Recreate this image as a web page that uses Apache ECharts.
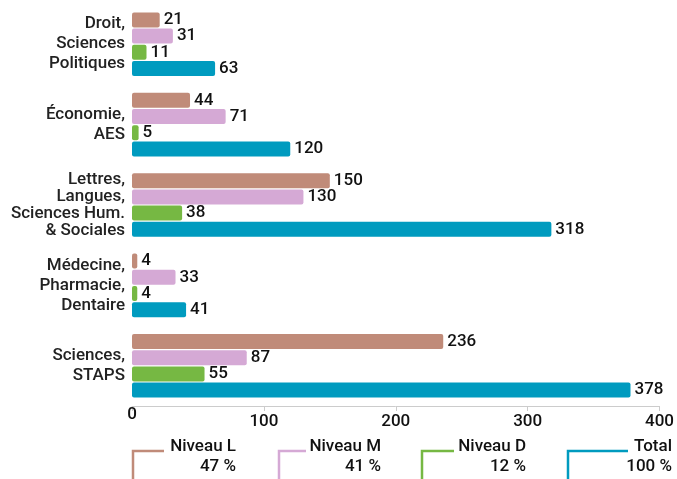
<!DOCTYPE html>
<html>
<head>
<meta charset="utf-8">
<script src="https://cdn.jsdelivr.net/npm/echarts@6/dist/echarts.min.js"></script>
<style>
  html, body { margin: 0; padding: 0; background: #fff; }
  #chart { width: 677px; height: 479px; }
</style>
</head>
<body>
<div id="chart"></div>
<script>
  // données
  var categories = [
    'Droit,\nSciences\nPolitiques',
    'Économie,\nAES',
    'Lettres,\nLangues,\nSciences Hum.\n& Sociales',
    'Médecine,\nPharmacie,\nDentaire',
    'Sciences,\nSTAPS'
  ];
  var seriesNames = ['Niveau L', 'Niveau M', 'Niveau D', 'Total'];
  var niveauL = [21, 44, 150, 4, 236];
  var niveauM = [31, 71, 130, 33, 87];
  var niveauD = [11, 5, 38, 4, 55];
  var total = [63, 120, 318, 41, 378];
  var legendPct = ['47 %', '41 %', '12 %', '100 %'];
  var xTicks = [0, 100, 200, 300, 400];

  var colors = ['#C08B79', '#D5A9D5', '#76B843', '#009BBF'];
  var font = 'Roboto, "Noto Sans", sans-serif';

  var chart = echarts.init(document.getElementById('chart'));

  var series = [niveauL, niveauM, niveauD, total].map(function (d, i) {
    return {
      name: seriesNames[i],
      type: 'bar',
      data: d,
      barWidth: 15,
      barGap: '8%',
      itemStyle: { color: colors[i], borderRadius: 2 },
      label: {
        show: true,
        position: 'right',
        distance: 4,
        color: '#111',
        fontSize: 17,
        fontWeight: 500,
        fontFamily: font
      }
    };
  });

  // légende faite à la main (coins + textes)
  var legX = [133, 279, 422, 568];
  var legRight = [236, 381, 526, 672];
  var legLineEnd = [164, 306, 454, 628];
  var graphic = [];
  for (var i = 0; i < 4; i++) {
    graphic.push({
      type: 'polyline',
      shape: { points: [[legX[i], 482], [legX[i], 451], [legLineEnd[i], 451]] },
      style: { stroke: colors[i], lineWidth: 2.5, fill: null }
    });
    graphic.push({
      type: 'text',
      x: legRight[i],
      y: 437,
      style: {
        text: seriesNames[i] + '\n' + legendPct[i],
        align: 'right',
        verticalAlign: 'top',
        lineHeight: 20,
        fill: '#111',
        font: '500 17px ' + font
      }
    });
  }

  chart.setOption({
    animation: false,
    grid: { left: 132, right: 15, top: 4, bottom: 73, containLabel: false },
    xAxis: {
      type: 'value',
      min: 0,
      max: 400,
      interval: 100,
      splitLine: { show: false },
      axisLine: { show: true, lineStyle: { color: '#ccc', width: 1 } },
      axisTick: { show: true, length: 5, lineStyle: { color: '#ccc' } },
      axisLabel: {
        margin: 0,
        formatter: function (v) {
          return xTicks.indexOf(v) === 0 ? '{z|' + v + '}' : '{n|' + v + '}';
        },
        rich: {
          z: { fontSize: 17, fontWeight: 500, fontFamily: font, color: '#111', lineHeight: 17 },
          n: { fontSize: 17, fontWeight: 500, fontFamily: font, color: '#111', lineHeight: 31 }
        }
      }
    },
    yAxis: {
      type: 'category',
      inverse: true,
      data: categories,
      axisLine: { show: false },
      axisTick: { show: false },
      axisLabel: {
        margin: 7,
        align: 'right',
        formatter: function (v) {
          var tag = v.split('\n').length > 3 ? 't' : 'c';
          return v.split('\n').map(function (l) { return '{' + tag + '|' + l + '}'; }).join('\n');
        },
        rich: {
          c: { fontSize: 17, fontWeight: 500, fontFamily: font, color: '#222', lineHeight: 20, align: 'right' },
          t: { fontSize: 17, fontWeight: 500, fontFamily: font, color: '#222', lineHeight: 17, align: 'right' }
        }
      }
    },
    graphic: graphic,
    series: series
  });
</script>
</body>
</html>
